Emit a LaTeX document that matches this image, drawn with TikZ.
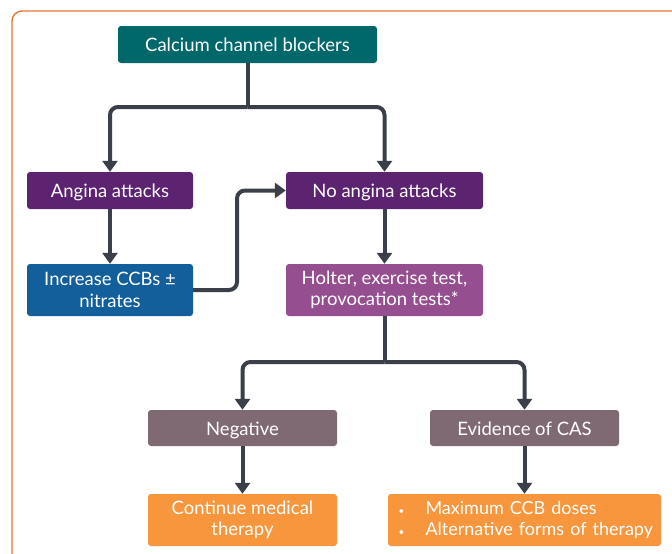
\documentclass[tikz,border=0pt]{standalone}
\usepackage{fontspec}
\setmainfont{Lato}
\usetikzlibrary{arrows.meta,calc}
\definecolor{cteal}{HTML}{00676B}
\definecolor{cpurple}{HTML}{5B2370}
\definecolor{cblue}{HTML}{125F9C}
\definecolor{cmauve}{HTML}{954E8F}
\definecolor{cgrey}{HTML}{7F6A74}
\definecolor{corange}{HTML}{F7963C}
\definecolor{cborder}{HTML}{E9763A}
\definecolor{cline}{HTML}{3A3F4A}
\begin{document}
\begin{tikzpicture}[x=1pt,y=-1pt,
  box/.style={rounded corners=3pt, text=white, align=center, inner sep=0pt,
    font=\fontsize{18.5}{21.5}\selectfont},
  one/.style={text height=14.5pt, text depth=0pt},
  link/.style={draw=cline, line width=4pt, rounded corners=8pt},
  conn/.style={link, -{Triangle[width=15pt,length=11pt]}}]
\useasboundingbox (0,0) rectangle (672,554);
\clip (0,0) rectangle (672,554);
\fill[white] (0,0) rectangle (672,554);
\draw[cborder, line width=1.4pt, rounded corners=10pt] (12,11) rectangle (700,600);

\node[box, one, fill=cteal, minimum width=259pt, minimum height=37pt] (top) at (247.5,44.5) {Calcium channel blockers};
\node[box, one, fill=cpurple, minimum width=166pt, minimum height=37pt] (ang) at (110,190.5) {Angina attacks};
\node[box, one, fill=cpurple, minimum width=197pt, minimum height=37pt] (noang) at (384.5,190.5) {No angina attacks};
\node[box, fill=cblue, minimum width=166pt, minimum height=52pt] (inc) at (110,290) {Increase CCBs ±\\nitrates};
\node[box, fill=cmauve, minimum width=197pt, minimum height=52pt] (holter) at (384.5,290) {Holter, exercise test,\\provocation tests*};
\node[box, one, fill=cgrey, minimum width=189pt, minimum height=36pt] (neg) at (242.5,428) {Negative};
\node[box, one, fill=cgrey, minimum width=189pt, minimum height=36pt] (cas) at (524.5,428) {Evidence of CAS};
\node[box, fill=corange, minimum width=189pt, minimum height=52pt] (cont) at (242.5,520) {Continue medical\\therapy};
\node[box, fill=corange, minimum width=273pt, minimum height=52pt, align=left, text width=262pt,
  font=\fontsize{18}{21.5}\selectfont] (max) at (524.5,520)
  {\makebox[32pt][l]{\hspace{5pt}\scalebox{0.55}{\textbullet}}Maximum CCB doses\\\makebox[32pt][l]{\hspace{5pt}\scalebox{0.55}{\textbullet}}Alternative forms of therapy};

\coordinate (bus1) at (247.5,107);
\coordinate (bus2) at (384.5,362);
\draw[link] (top.south) -- (bus1);
\draw[conn] (bus1) -| (ang.north);
\draw[conn] (bus1) -| (noang.north);
\draw[conn] (ang.south) -- (inc.north);
\draw[conn] (noang.south) -- (holter.north);
\coordinate (k) at (237,290);
\draw[conn] (inc.east) -- (k) |- (noang.west);
\draw[link] (holter.south) -- (bus2);
\draw[conn] (bus2) -| (neg.north);
\draw[conn] (bus2) -| (cas.north);
\draw[conn] (neg.south) -- (cont.north);
\draw[conn] (cas.south) -- (max.north);
\end{tikzpicture}
\end{document}
